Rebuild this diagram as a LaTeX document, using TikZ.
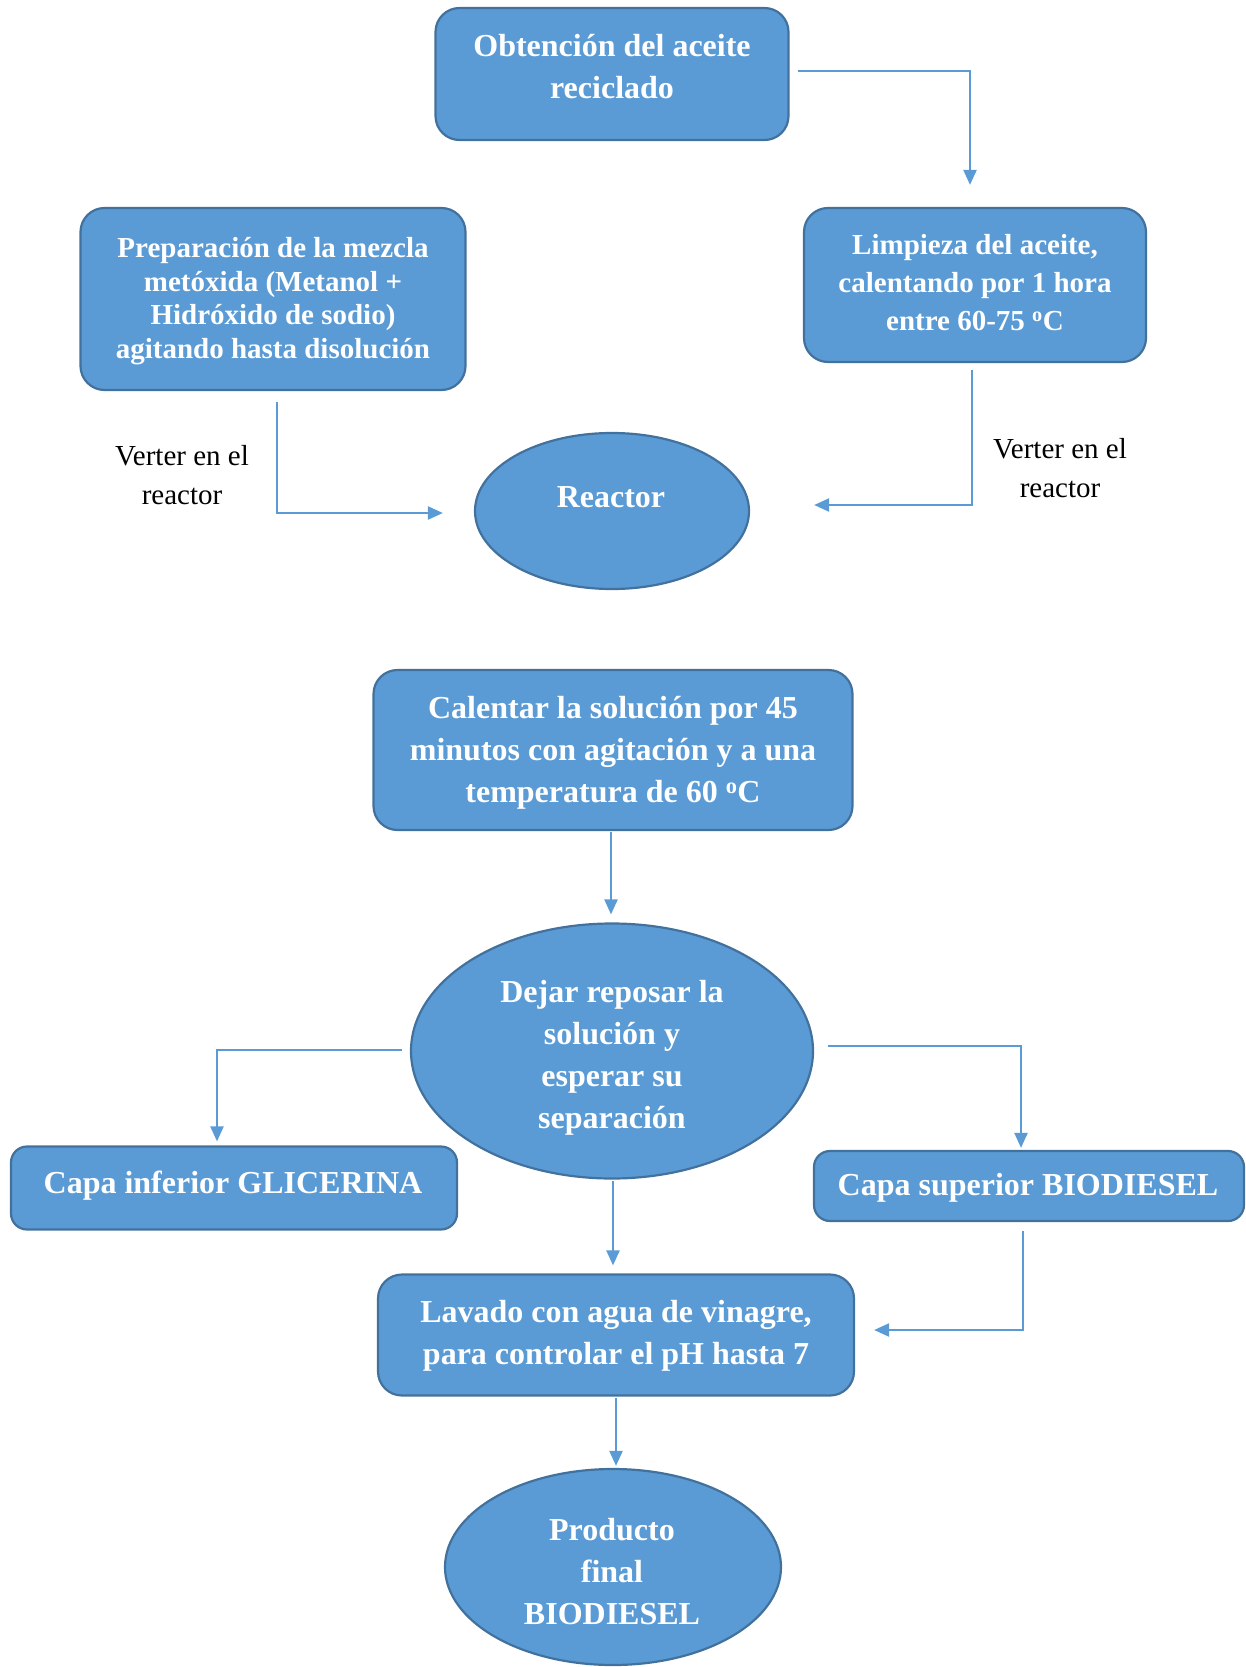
\documentclass[tikz,border=0pt]{standalone}
\usepackage{fontspec}
\setmainfont{Liberation Serif}
\usetikzlibrary{shapes.geometric,arrows.meta,calc}
\definecolor{boxc}{HTML}{5B9BD5}
\definecolor{bordc}{HTML}{41719C}
\definecolor{arrc}{HTML}{5B9BD5}
\tikzset{
  boxn/.style={draw=bordc, fill=boxc, line width=2.2pt, rounded corners=24pt, inner sep=0pt},
  elln/.style={ellipse, draw=bordc, fill=boxc, line width=2.2pt, inner sep=0pt},
  wt/.style={text=white, align=center, inner sep=0pt, font=\bfseries\fontsize{32}{42}\selectfont},
  wts/.style={wt, font=\bfseries\fontsize{29}{33.5}\selectfont},
  wtm/.style={wt, font=\bfseries\fontsize{29}{38}\selectfont},
  lbl/.style={text=black, align=center, inner sep=0pt, font=\fontsize{29}{39}\selectfont},
  arr/.style={draw=arrc, line width=2.2pt, -{Triangle[length=15pt,width=13pt]}}
}
\begin{document}
\begin{tikzpicture}[x=1pt,y=-1pt]
\useasboundingbox (0,0) rectangle (1246,1667);
% shapes
\node[boxn, minimum width=353pt, minimum height=132pt] (b1) at (612,74) {};
\node[boxn, minimum width=385pt, minimum height=182pt] (b2) at (273,299) {};
\node[boxn, minimum width=342pt, minimum height=154pt] (b3) at (975,285) {};
\node[elln, minimum width=274pt, minimum height=156pt] (re) at (612,511) {};
\node[boxn, minimum width=479pt, minimum height=160pt] (b4) at (613,750) {};
\node[elln, minimum width=402pt, minimum height=255pt] (e2) at (612,1051) {};
\node[boxn, rounded corners=16pt, minimum width=446pt, minimum height=83pt] (gli) at (234,1188) {};
\node[boxn, rounded corners=16pt, minimum width=430pt, minimum height=70pt] (bio) at (1029,1186) {};
\node[boxn, minimum width=476pt, minimum height=121pt] (lav) at (616,1335) {};
\node[elln, minimum width=336pt, minimum height=196pt] (pr) at (613,1567) {};
% texts
\node[wt] (b1t) at (612,67) {Obtención del aceite\\reciclado};
\node[wts] (b2t) at (273,301) {Preparación de la mezcla\\metóxida (Metanol +\\Hidróxido de sodio)\\agitando hasta disolución};
\node[wtm] (b3t) at (975,283) {Limpieza del aceite,\\calentando por 1 hora\\entre 60-75 \textsuperscript{o}C};
\node[wt] (ret) at (611,497) {Reactor};
\node[wt] (b4t) at (613,753) {Calentar la solución por 45\\minutos con agitación y a una\\temperatura de 60 \textsuperscript{o}C};
\node[wt] (e2t) at (612,1058) {Dejar reposar la\\solución y\\esperar su\\separación};
\node[wt] (glit) at (233,1186) {Capa inferior GLICERINA};
\node[wt] (biot) at (1028,1188) {Capa superior BIODIESEL};
\node[wt] (lavt) at (616,1336) {Lavado con agua de vinagre,\\para controlar el pH hasta 7};
\node[wt] (prt) at (612,1572) {Producto\\final\\BIODIESEL};
\node[lbl] (v1) at (182,475) {Verter en el\\reactor};
\node[lbl] (v2) at (1060,468) {Verter en el\\reactor};
% connectors
\draw[arr] ($(b1.east)+(8,-3)$) -| ($(b3.north)+(-5,-22)$);
\draw[arr] ($(b2.south)+(4,11)$) |- ($(re.west)+(-31,2)$);
\draw[arr] ($(b3.south)+(-3,7)$) |- ($(re.east)+(64,-6)$);
\draw[arr] ($(b4.south)+(-2,1)$) -- ($(b4.south |- e2.north)+(-2,-8)$);
\draw[arr] ($(e2.west)+(-8,-1)$) -| ($(gli.north)+(-17,-4)$);
\draw[arr] ($(e2.east)+(14,-5)$) -| ($(bio.north)+(-8,-2)$);
\draw[arr] ($(e2.south)+(1,1)$) -- ($(e2.south |- lav.north)+(1,-8)$);
\draw[arr] ($(bio.south)+(-6,9)$) |- ($(lav.east)+(19,-5)$);
\draw[arr] ($(lav.south)+(0,1)$) -- ($(lav.south |- pr.north)+(0,-2)$);
\end{tikzpicture}
\end{document}
